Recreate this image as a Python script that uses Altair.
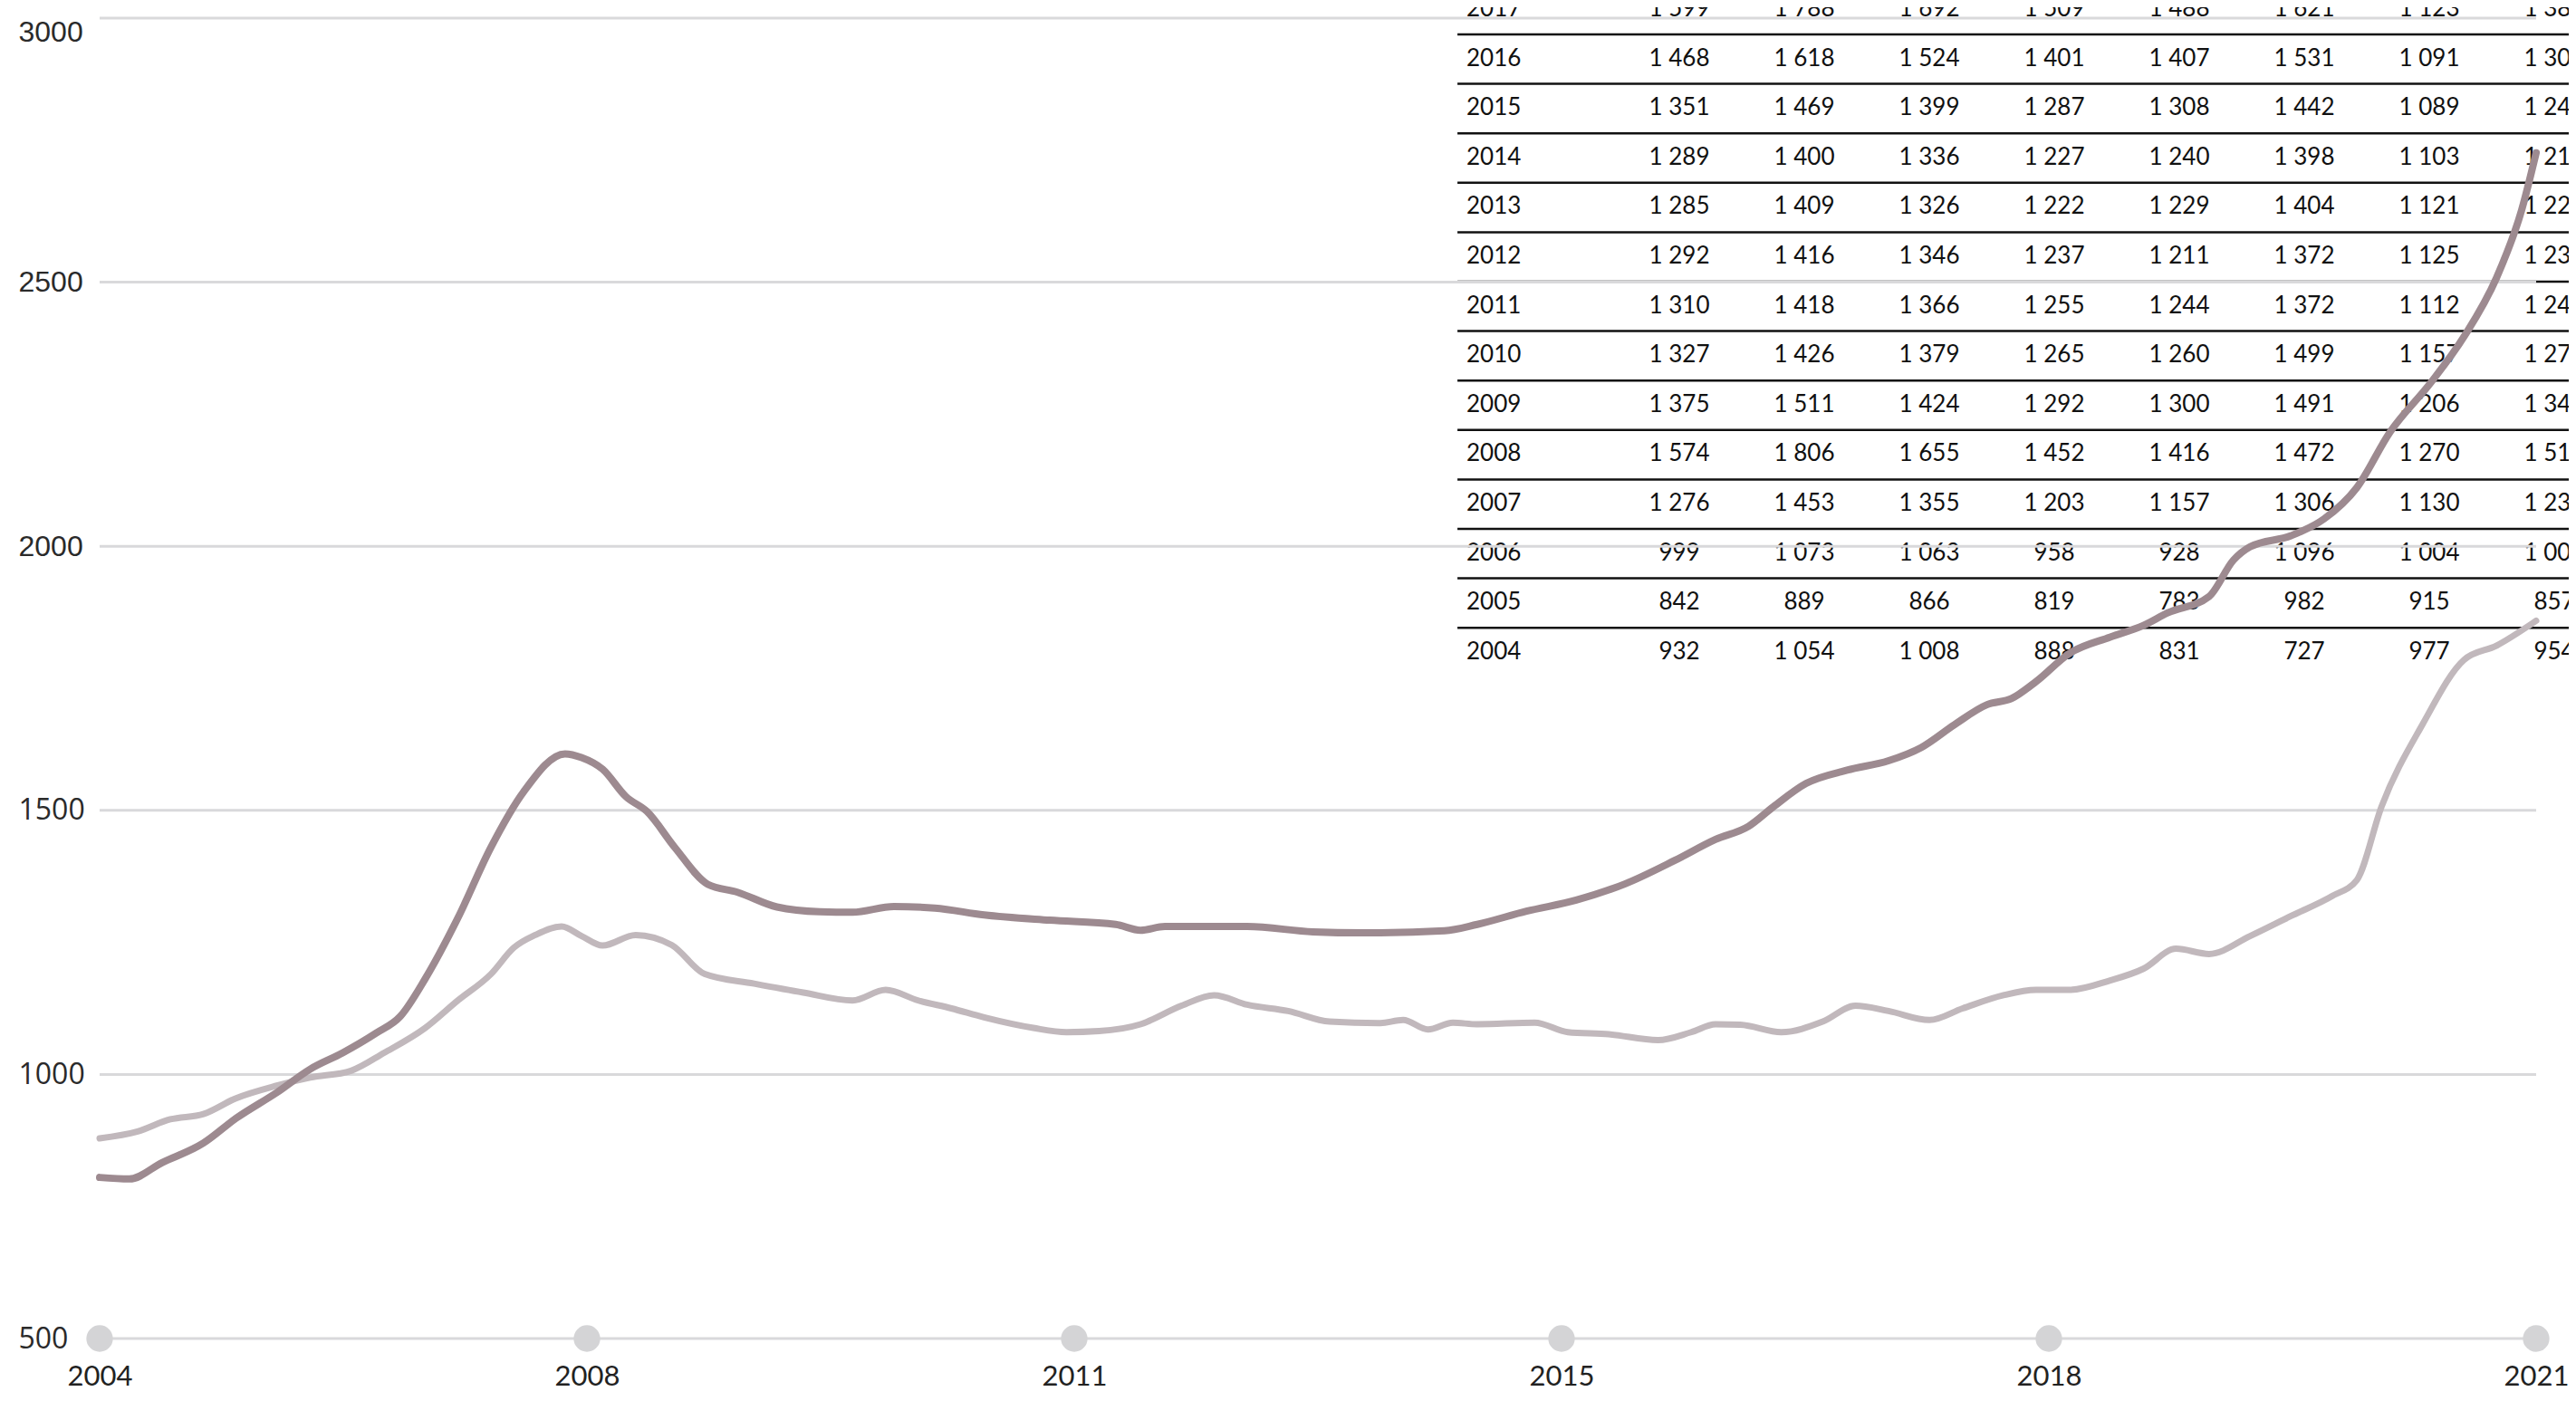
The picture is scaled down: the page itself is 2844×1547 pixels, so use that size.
import altair as alt
import pandas as pd

# ---------------- data ----------------
tick_pos = [0, 1, 2, 3, 4, 5]
tick_labels = ["2004", "2008", "2011", "2015", "2018", "2021"]
y_ticks = [500, 1000, 1500, 2000, 2500, 3000]

dark_t = [0.000, 0.061, 0.128, 0.213, 0.280, 0.364, 0.432, 0.499, 0.567, 0.617,
          0.668, 0.735, 0.803, 0.870, 0.955, 0.989, 1.032, 1.080, 1.123, 1.181,
          1.248, 1.309, 1.390, 1.478, 1.545, 1.630, 1.714, 1.815, 1.950, 2.085,
          2.136, 2.186, 2.355, 2.490, 2.591, 2.760, 2.827, 2.928, 3.030, 3.131,
          3.232, 3.316, 3.384, 3.435, 3.502, 3.586, 3.671, 3.738, 3.806, 3.873,
          3.924, 3.974, 4.042, 4.126, 4.194, 4.244, 4.329, 4.379, 4.413, 4.497,
          4.565, 4.632, 4.700, 4.784, 4.852, 4.919, 4.970, 5.000]
dark_v = [805, 802, 833, 870, 917, 966, 1010, 1041, 1078, 1110,
          1181, 1296, 1430, 1535, 1607, 1600, 1578, 1526, 1498, 1429,
          1360, 1345, 1317, 1308, 1307, 1318, 1315, 1302, 1292, 1284,
          1273, 1280, 1280, 1270, 1268, 1272, 1284, 1309, 1330, 1361,
          1405, 1445, 1470, 1507, 1551, 1576, 1594, 1619, 1662, 1700,
          1712, 1744, 1797, 1828, 1850, 1874, 1905, 1974, 1999, 2020,
          2052, 2111, 2216, 2310, 2397, 2509, 2636, 2745]

light_t = [0.000, 0.078, 0.145, 0.213, 0.280, 0.364, 0.432, 0.516, 0.584, 0.668,
           0.735, 0.803, 0.850, 0.894, 0.948, 0.989, 1.032, 1.100, 1.174, 1.242,
           1.343, 1.444, 1.545, 1.613, 1.680, 1.748, 1.815, 1.916, 1.984, 2.051,
           2.136, 2.220, 2.287, 2.355, 2.439, 2.524, 2.625, 2.675, 2.726, 2.777,
           2.827, 2.945, 3.013, 3.097, 3.198, 3.266, 3.316, 3.367, 3.451, 3.536,
           3.603, 3.671, 3.755, 3.823, 3.907, 3.974, 4.042, 4.126, 4.194, 4.261,
           4.329, 4.413, 4.497, 4.582, 4.632, 4.683, 4.767, 4.852, 4.919, 5.000]
light_v = [879, 892, 915, 925, 955, 979, 994, 1007, 1041, 1088,
           1140, 1190, 1240, 1264, 1280, 1262, 1244, 1264, 1245, 1190,
           1172, 1155, 1140, 1160, 1140, 1125, 1108, 1088, 1080, 1082,
           1095, 1130, 1150, 1132, 1120, 1100, 1097, 1103, 1085, 1098,
           1095, 1098, 1080, 1076, 1065, 1080, 1095, 1094, 1080, 1100,
           1130, 1120, 1103, 1125, 1150, 1160, 1160, 1178, 1200, 1238,
           1228, 1262, 1300, 1338, 1368, 1508, 1663, 1785, 1812, 1859]

assert len(dark_t) == len(dark_v) and len(light_t) == len(light_v)

table_years = [2017, 2016, 2015, 2014, 2013, 2012, 2011, 2010, 2009, 2008, 2007, 2006, 2005, 2004]
table_values = [
    [1599, 1788, 1692, 1509, 1488, 1621, 1123, 1388],
    [1468, 1618, 1524, 1401, 1407, 1531, 1091, 1301],
    [1351, 1469, 1399, 1287, 1308, 1442, 1089, 1240],
    [1289, 1400, 1336, 1227, 1240, 1398, 1103, 1219],
    [1285, 1409, 1326, 1222, 1229, 1404, 1121, 1227],
    [1292, 1416, 1346, 1237, 1211, 1372, 1125, 1235],
    [1310, 1418, 1366, 1255, 1244, 1372, 1112, 1248],
    [1327, 1426, 1379, 1265, 1260, 1499, 1157, 1275],
    [1375, 1511, 1424, 1292, 1300, 1491, 1206, 1344],
    [1574, 1806, 1655, 1452, 1416, 1472, 1270, 1511],
    [1276, 1453, 1355, 1203, 1157, 1306, 1130, 1238],
    [999, 1073, 1063, 958, 928, 1096, 1004, 1000],
    [842, 889, 866, 819, 783, 982, 915, 857],
    [932, 1054, 1008, 888, 831, 727, 977, 954],
]

# ---------------- frames ----------------
dark_df = pd.DataFrame({"t": dark_t, "v": dark_v})
light_df = pd.DataFrame({"t": light_t, "v": light_v})
grid_df = pd.DataFrame({"v": y_ticks})
dots_df = pd.DataFrame({"t": tick_pos, "v": [500] * len(tick_pos)})

val_rows = []
for yr, row in zip(table_years, table_values):
    for k, val in enumerate(row, start=1):
        val_rows.append({"col": k, "year": yr, "label": f"{val:,}".replace(",", " ")})
val_df = pd.DataFrame(val_rows)
year_df = pd.DataFrame({"col": [-0.703] * len(table_years), "year": table_years,
                        "label": [str(y) for y in table_years]})
sep_years = [y for y in table_years if y != 2004]
sep_df = pd.DataFrame({"x1": [-0.775] * len(sep_years), "x2": [9.0] * len(sep_years),
                       "ys": [y - 0.3663 for y in sep_years]})

# ---------------- scales / axes ----------------
W, H = 2690, 1458
xs = alt.Scale(domain=[0, 5], nice=False, zero=False)
ys = alt.Scale(domain=[500, 3000], nice=False, zero=False)

label_expr = "[" + ",".join(f"'{l}'" for l in tick_labels) + "][datum.value]"
x_axis = alt.Axis(values=tick_pos, labelExpr=label_expr, orient="bottom", grid=False,
                  domain=False, ticks=False, tickSize=0, labelPadding=51,
                  labelFlush=False, labelOverlap=False,
                  labelBaseline="alphabetic", labelFont="Lato", labelFontSize=31,
                  labelColor="#222222", title=None)
y_axis = alt.Axis(values=y_ticks, orient="left", grid=False, domain=False, ticks=False,
                  tickSize=0, labelPadding=90, labelAlign="left", labelFlush=False,
                  labelBaseline={"condition": {"test": "datum.value >= 3000", "value": "top"},
                                 "value": "middle"},
                  labelFont={"condition": {"test": "datum.value >= 2000", "value": "Liberation Sans"},
                             "value": "Open Sans"},
                  labelFontSize=32, labelColor="#2a2a2a", title=None, format="d")

tx = alt.Scale(domain=[-11.638, 7.855], nice=False, zero=False)
ty = alt.Scale(domain=[1990.2601, 2016.9634], nice=False, zero=False)

# ---------------- table layers ----------------
seps = alt.Chart(sep_df).mark_rule(color="#111111", strokeWidth=2.5).encode(
    x=alt.X("x1:Q", scale=tx, axis=None),
    x2="x2:Q",
    y=alt.Y("ys:Q", scale=ty, axis=None),
)
years_txt = alt.Chart(year_df).mark_text(align="left", baseline="alphabetic", font="Lato",
                                         fontSize=26, color="#111111").encode(
    x=alt.X("col:Q", scale=tx, axis=None),
    y=alt.Y("year:Q", scale=ty, axis=None),
    text="label:N",
)
vals_txt = alt.Chart(val_df).mark_text(align="center", baseline="alphabetic", font="Lato",
                                       fontSize=26, color="#111111").encode(
    x=alt.X("col:Q", scale=tx, axis=None),
    y=alt.Y("year:Q", scale=ty, axis=None),
    text="label:N",
)
table = alt.layer(seps, years_txt, vals_txt)

# ---------------- main chart layers ----------------
grid = alt.Chart(grid_df).mark_rule(color="#d9d9db", strokeWidth=3).encode(
    y=alt.Y("v:Q", scale=ys, axis=y_axis),
)
dots = alt.Chart(dots_df).mark_point(filled=True, opacity=1, size=860, color="#d4d4d6",
                                     shape="circle").encode(
    x=alt.X("t:Q", scale=xs, axis=x_axis),
    y=alt.Y("v:Q", scale=ys, axis=y_axis),
)
light = alt.Chart(light_df).mark_line(interpolate="monotone", strokeWidth=7,
                                      color="#c1b8bc", strokeCap="round").encode(
    x=alt.X("t:Q", scale=xs, axis=x_axis),
    y=alt.Y("v:Q", scale=ys, axis=y_axis),
)
dark = alt.Chart(dark_df).mark_line(interpolate="monotone", strokeWidth=8,
                                    color="#9d8a90", strokeCap="round").encode(
    x=alt.X("t:Q", scale=xs, axis=x_axis),
    y=alt.Y("v:Q", scale=ys, axis=y_axis),
)
main = alt.layer(grid, dots, light, dark)

chart = alt.layer(table, main).resolve_scale(x="independent", y="independent").properties(
    width=W, height=H,
    autosize=alt.AutoSizeParams(type="none"),
    padding={"left": 102, "top": 12, "right": 36, "bottom": 60},
    background="white",
).configure_view(strokeWidth=0)

chart.save("out.html", embed_options={"renderer": "svg", "actions": False})
